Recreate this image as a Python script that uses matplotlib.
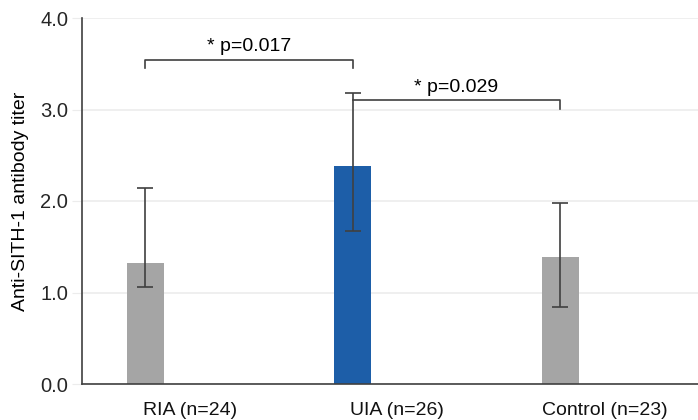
import matplotlib.pyplot as plt

plt.rcParams['font.family'] = ['Liberation Sans', 'DejaVu Sans']

# Data
groups = ["RIA (n=24)", "UIA (n=26)", "Control (n=23)"]
means = [1.32, 2.38, 1.39]
err_upper = [2.14, 3.18, 1.98]
err_lower = [1.06, 1.67, 0.84]
bar_colors = ["#a5a5a5", "#1d5ea8", "#a5a5a5"]
yticks = [0.0, 1.0, 2.0, 3.0, 4.0]

# p-value brackets: (left group, right group, label)
brackets = [(0, 1, "* p=0.017"), (1, 2, "* p=0.029")]

fig = plt.figure(figsize=(6.98, 4.2), dpi=100)
ax = fig.add_axes([82 / 698, 36 / 420, 616 / 698, 366 / 420])

xs = [i - 0.215 for i in range(len(groups))]
lo = [m - l for m, l in zip(means, err_lower)]
hi = [u - m for m, u in zip(means, err_upper)]

ax.bar(xs, means, width=0.178, color=bar_colors, zorder=2)
ax.errorbar(xs, means, yerr=[lo, hi], fmt="none", ecolor="#404040",
            elinewidth=1.2, capsize=6, capthick=1.2, zorder=3)

# significance brackets
ax.plot([xs[0], xs[0], xs[1], xs[1]], [3.45, 3.54, 3.54, 3.45],
        color="#404040", lw=1.2, zorder=3)
ax.text((xs[0] + xs[1]) / 2, 3.69, brackets[0][2], ha="center", va="center",
        fontsize=14)
ax.plot([xs[1], xs[2], xs[2]], [3.10, 3.10, 3.01],
        color="#404040", lw=1.2, zorder=3)
ax.text((xs[1] + xs[2]) / 2, 3.24, brackets[1][2], ha="center", va="center",
        fontsize=14)

ax.set_xlim(-0.52, 2.45)
ax.set_ylim(0, 4.0)
ax.set_yticks(yticks)
ax.set_yticklabels([f"{t:.1f}" for t in yticks], fontsize=14.5, color="#262626")
ax.set_xticks(range(len(groups)))
ax.set_xticklabels(groups, fontsize=14, color="#111111")
ax.tick_params(axis="x", length=0, pad=13)
ax.tick_params(axis="y", length=7, color="#ececec", pad=3)
ax.yaxis.grid(True, color="#ececec", lw=1.2, zorder=0)
ax.set_axisbelow(True)

ax.set_ylabel("Anti-SITH-1 antibody titer", fontsize=14, labelpad=8)

for s in ["top", "right"]:
    ax.spines[s].set_visible(False)
ax.spines["left"].set_color("#404040")
ax.spines["bottom"].set_color("#404040")
ax.spines["left"].set_linewidth(1.2)
ax.spines["bottom"].set_linewidth(1.2)

plt.savefig("out.png", dpi=100)
plt.close()
